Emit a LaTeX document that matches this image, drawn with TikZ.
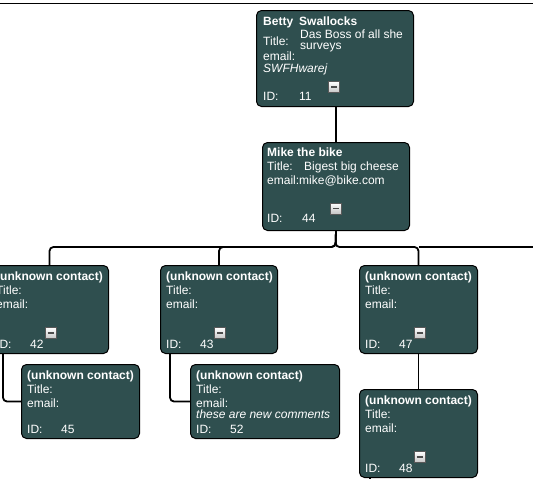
\documentclass[tikz,border=0pt]{standalone}
\usepackage{fontspec}
\setmainfont{Liberation Sans}
\definecolor{cardfill}{RGB}{47,79,79}
\tikzset{
  card/.style={draw=black, line width=1pt, fill=cardfill, rounded corners=5pt, anchor=north west, inner sep=0pt},
  txt/.style={anchor=base west, inner sep=0pt, text=white, font=\fontsize{12}{14}\selectfont},
  boldtxt/.style={txt, font=\fontsize{12}{14}\selectfont\bfseries},
  italtxt/.style={txt, font=\fontsize{12}{14}\selectfont\itshape},
  btn/.style={draw=gray!70!black, line width=0.6pt, top color=white, bottom color=gray!45,
    minimum size=11pt, inner sep=0pt,
    path picture={\draw[line width=1.6pt, black!70] ([xshift=-3pt]path picture bounding box.center) -- ([xshift=3pt]path picture bounding box.center);}},
  conn/.style={draw=black, line width=1.8pt, rounded corners=4pt},
}
\newcommand{\unkcard}[6]{%
  \node[card, minimum width=#4pt, minimum height=#5pt] (#1) at (#2,#3) {};
  \node[boldtxt] (#1n) at ([shift={(6,15)}]#1.north west) {(unknown contact)};
  \node[txt] (#1t) at ([shift={(6,29)}]#1.north west) {Title:};
  \node[txt] (#1e) at ([shift={(6,43)}]#1.north west) {email:};
  \node[txt] (#1i) at ([shift={(6,-6)}]#1.south west) {ID:};
  \node[txt] (#1d) at ([shift={(40,-6)}]#1.south west) {#6};
}
\begin{document}
\begin{tikzpicture}[x=1pt,y=-1pt]
\useasboundingbox (0,0) rectangle (533,479);
% top rule
\draw[line width=1.2pt] (0,3.5) -- (533,3.5);

% Betty
\node[card, minimum width=157pt, minimum height=96pt] (betty) at (256,10) {};
\node[boldtxt] (bettyn1) at (263,25) {Betty};
\node[boldtxt] (bettyn2) at (299,25) {Swallocks};
\node[txt] (bettyt) at (263,45) {Title:};
\node[txt] (bettyt1) at (300,38) {Das Boss of all she};
\node[txt] (bettyt2) at (300,49) {surveys};
\node[txt] (bettye) at (263,60) {email:};
\node[italtxt] (bettyc) at (263,72) {SWFHwarej};
\node[btn] (bettyb) at (334,87) {};
\node[txt] (bettyi) at (263,100) {ID:};
\node[txt] (bettyd) at (299,100) {11};

% Mike
\node[card, minimum width=147pt, minimum height=88pt] (mike) at (262,142) {};
\node[boldtxt] (miken) at (267,156) {Mike the bike};
\node[txt] (miket) at (267,170) {Title:};
\node[txt] (miket1) at (304,170) {Bigest big cheese};
\node[txt] (mikee) at (267,184) {email:mike@bike.com};
\node[btn] (mikeb) at (336,208.5) {};
\node[txt] (mikei) at (267,222) {ID:};
\node[txt] (miked) at (302,222) {44};

% children
\unkcard{bA}{-10}{265}{118}{88}{42}
\node[btn] (bAb) at ([shift={(1,-21)}]bA.south) {};
\unkcard{bB}{160}{265}{117}{88}{43}
\node[btn] (bBb) at ([shift={(1,-21)}]bB.south) {};
\unkcard{bC}{359}{265}{118}{88}{47}
\node[btn] (bCb) at ([shift={(1,-21)}]bC.south) {};
\unkcard{bD}{21}{364}{118}{74}{45}
\unkcard{bE}{190}{364}{149}{74}{52}
\node[italtxt] (bEc) at ([shift={(6,54)}]bE.north west) {these are new comments};
\unkcard{bF}{359}{389}{118}{88}{48}
\node[btn] (bFb) at ([shift={(1,-21)}]bF.south) {};

% connectors
\coordinate (hub) at (335.5,247);
\coordinate (rightend) at (533,247);
\draw[conn] (mike.north |- betty.south) -- (mike.north);
\draw[conn] (mike.south) -- (hub) -| (bA.north);
\draw[conn] (mike.south) -- (hub) -| (bB.north);
\draw[conn] (mike.south) -- (hub) -| (bC.north);
\draw[conn] (bC.north |- hub) -- (rightend);
\draw[conn] ([xshift=13pt]bA.south west) |- (bD.west);
\draw[conn] ([xshift=10pt]bB.south west) |- (bE.west);
\draw[conn] (bC.south) -- (bF.north);
\coordinate (offpage) at (370,485);
\draw[conn] ([xshift=11pt]bF.south west) -- (offpage);
\end{tikzpicture}
\end{document}
